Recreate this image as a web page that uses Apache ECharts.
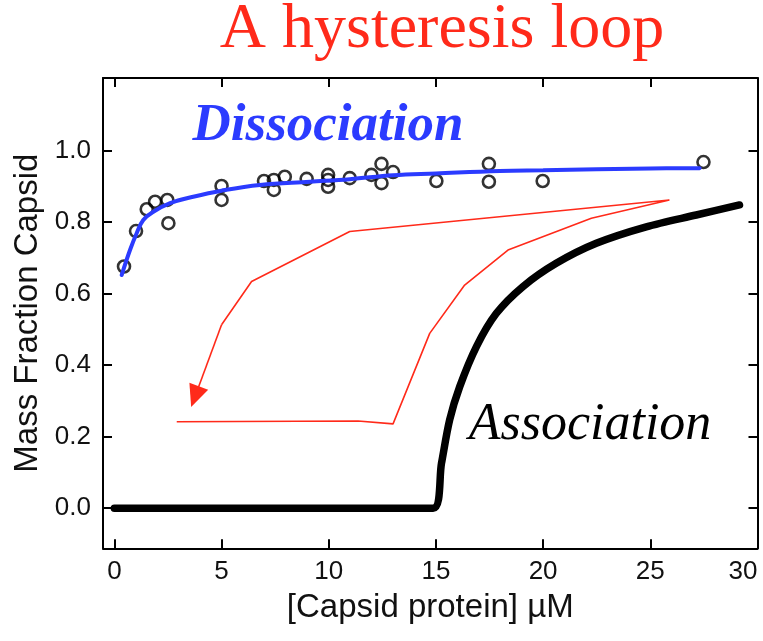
<!DOCTYPE html>
<html>
<head>
<meta charset="utf-8">
<script src="https://cdn.jsdelivr.net/npm/echarts@6/dist/echarts.min.js"></script>
<style>
  html, body { margin: 0; padding: 0; background: #fff; }
  #chart { width: 763px; height: 641px; }
</style>
</head>
<body>
<div id="chart"></div>
<script>
// Measured dissociation points: [capsid protein µM, mass fraction capsid]
const dissociationPoints = [
  [0.45, 0.676], [1.01, 0.775], [1.51, 0.836], [1.90, 0.857], [2.47, 0.862], [2.52, 0.797],
  [5.0, 0.901], [5.0, 0.862], [6.98, 0.915], [7.44, 0.890], [7.44, 0.918], [7.95, 0.927],
  [8.97, 0.921], [9.97, 0.932], [9.97, 0.918], [9.97, 0.899], [10.98, 0.923],
  [11.99, 0.932], [12.46, 0.963], [12.46, 0.909], [13.0, 0.94], [15.02, 0.915],
  [17.47, 0.963], [17.47, 0.913], [19.98, 0.915], [27.48, 0.968]
];

// Fitted dissociation curve
const dissociationFit = [
  [0.34, 0.652], [0.73, 0.722], [1.04, 0.769], [1.35, 0.806], [1.82, 0.829], [2.6, 0.853],
  [3.68, 0.871], [5.0, 0.888], [6.79, 0.904], [9.12, 0.913], [10.98, 0.92], [13.0, 0.931],
  [15.0, 0.936], [17.97, 0.943], [20.0, 0.945], [25.0, 0.95], [27.3, 0.951]
];

// Association curve
const associationCurve = [
  [0.0, 0.0], [5.0, 0.0], [10.0, 0.0], [14.87, 0.0], [15.26, 0.126], [15.64, 0.247],
  [16.11, 0.34], [16.89, 0.452], [17.82, 0.545], [19.06, 0.62], [20.61, 0.685],
  [22.48, 0.741], [24.81, 0.787], [27.14, 0.82], [29.16, 0.848]
];

// Hysteresis path (arrow drawn on the last segment)
const loopPath = [
  [2.91, 0.242], [11.37, 0.244], [13.0, 0.236], [14.71, 0.489], [16.34, 0.624],
  [18.36, 0.722], [22.25, 0.811], [25.89, 0.862], [10.98, 0.774], [6.40, 0.634], [5.0, 0.513]
];
const loopArrow = [[5.0, 0.513], [3.76, 0.312]];

const xTicks = [0, 5, 10, 15, 20, 25, 30];
const yTicks = [0, 0.2, 0.4, 0.6, 0.8, 1.0];

const X_MIN = -0.53, X_MAX = 30;
const Y_MIN = -0.112, Y_MAX = 1.203;

const FONT = '"Liberation Sans", Arial, sans-serif';
const SERIF = '"Liberation Serif", "Times New Roman", serif';

const axisLineStyle = { show: true, onZero: false, lineStyle: { color: '#000', width: 2 } };
const tickStyle = ticks => ({ show: true, inside: true, length: 9, customValues: ticks, lineStyle: { color: '#000', width: 2 } });

const chart = echarts.init(document.getElementById('chart'), null, { renderer: 'canvas' });

chart.setOption({
  animation: false,
  backgroundColor: '#fff',
  grid: { left: 103, right: 5.5, top: 78, bottom: 92.7, containLabel: false },
  xAxis: [
    {
      type: 'value', position: 'bottom', min: X_MIN, max: X_MAX,
      name: '[Capsid protein] µM', nameLocation: 'middle', nameGap: 43,
      nameTextStyle: { fontFamily: FONT, fontSize: 33, color: '#111' },
      axisLine: axisLineStyle,
      axisTick: tickStyle(xTicks),
      axisLabel: { show: true, customValues: xTicks, margin: 11, fontFamily: FONT, fontSize: 26, color: '#111', alignMaxLabel: 'right' },
      splitLine: { show: false }
    },
    {
      type: 'value', position: 'top', min: X_MIN, max: X_MAX,
      axisLine: axisLineStyle,
      axisTick: tickStyle(xTicks),
      axisLabel: { show: false },
      splitLine: { show: false }
    }
  ],
  yAxis: [
    {
      type: 'value', position: 'left', min: Y_MIN, max: Y_MAX,
      name: 'Mass Fraction Capsid', nameLocation: 'middle', nameGap: 58,
      nameTextStyle: { fontFamily: FONT, fontSize: 33, color: '#111' },
      axisLine: axisLineStyle,
      axisTick: tickStyle(yTicks),
      axisLabel: {
        show: true, customValues: yTicks, margin: 12, fontFamily: FONT, fontSize: 26, color: '#111',
        formatter: v => v.toFixed(1)
      },
      splitLine: { show: false }
    },
    {
      type: 'value', position: 'right', min: Y_MIN, max: Y_MAX,
      axisLine: axisLineStyle,
      axisTick: tickStyle(yTicks),
      axisLabel: { show: false },
      splitLine: { show: false }
    }
  ],
  series: [
    {
      name: 'Association', type: 'line', data: associationCurve, smooth: 0.3,
      showSymbol: false, symbol: 'none',
      lineStyle: { color: '#000', width: 7.5, cap: 'round', join: 'round' }, z: 3
    },
    {
      name: 'Loop', type: 'line', data: loopPath, smooth: false,
      showSymbol: false, symbol: 'none',
      lineStyle: { color: '#ff2a1a', width: 1.6 }, z: 2,
      markLine: {
        silent: true, symbol: ['none', 'triangle'], symbolSize: [20, 22],
        label: { show: false },
        lineStyle: { color: '#ff2a1a', width: 1.6, type: 'solid' },
        data: [[{ coord: loopArrow[0] }, { coord: loopArrow[1] }]]
      }
    },
    {
      name: 'Dissociation data', type: 'scatter', data: dissociationPoints,
      symbol: 'circle', symbolSize: 12,
      itemStyle: { color: 'rgba(255,255,255,0)', borderColor: '#000', borderWidth: 2.6 }, z: 4
    },
    {
      name: 'Dissociation', type: 'line', data: dissociationFit, smooth: 0.4,
      showSymbol: false, symbol: 'none',
      lineStyle: { color: '#2b3bff', width: 4, cap: 'round' }, z: 5
    }
  ],
  graphic: [
    {
      type: 'text', x: 442, y: 30,
      style: { text: 'A hysteresis loop', fill: '#ff2a1a', font: '64px ' + SERIF, textAlign: 'center', textVerticalAlign: 'middle' }
    },
    {
      type: 'text', x: 328, y: 126,
      style: { text: 'Dissociation', fill: '#2b3bff', font: 'italic bold 53px ' + SERIF, textAlign: 'center', textVerticalAlign: 'middle' }
    },
    {
      type: 'text', x: 590, y: 425,
      style: { text: 'Association', fill: '#000', font: 'italic 52px ' + SERIF, textAlign: 'center', textVerticalAlign: 'middle' }
    }
  ]
});
</script>
</body>
</html>
